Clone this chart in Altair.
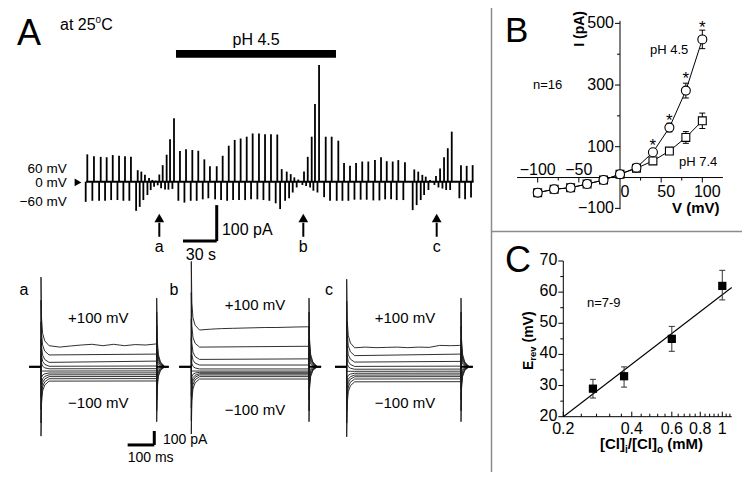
import altair as alt
import pandas as pd

FONT = "Liberation Sans"
INK = "#000000"
M = 8  # page margin of the html page

# ---------------- Panel A: continuous recording (t in s, I in pA) ----------------
sweep_t = [0, 5.7, 11.5, 16.6, 21.8, 27.2, 32.3, 37.4,
           43.2, 46.3, 49.4, 52.9, 55.7, 58.6, 61.7, 64.6, 68.0, 70.9, 74.3,
           79.4, 84.6, 90.0, 95.1, 100.3, 105.1, 110.9, 116.0, 121.2, 126.3, 131.4, 136.6, 141.7, 147.1, 152.3, 157.4, 162.8,
           166.6, 170.9, 174.3, 177.4, 180.8,
           185.7, 188.9, 192.3, 195.1, 198.6, 204.3, 209.4, 215.1, 220.0, 225.1, 230.3, 235.6, 240.8, 246.5, 251.7, 256.6, 261.7, 266.5, 272.2,
           280.2, 283.6, 287.1, 290.0, 293.7, 298.8, 302.3, 305.7, 308.9, 312.3, 320.2, 325.1, 330.2]
sweep_up = [76, 71, 69, 68, 74, 72, 71, 69,
            32, 28, 19, 10, 5, 3, 20, 46, 75, 118, 176,
            85, 90, 88, 86, 62, 43, 43, 72, 100, 116, 120, 125, 134, 134, 132, 132, 131,
            35, 28, 21, 12, 6,
            28, 69, 125, 216, 324, 125, 125, 114, 52, 44, 52, 56, 56, 60, 68, 57, 56, 60, 54,
            34, 28, 19, 14, 5, 16, 37, 68, 93, 139, 46, 44, 46]
sweep_down = [-56, -53, -53, -53, -51, -51, -53, -53,
              -81, -70, -51, -37, -23, -14, -10, -18, -22, -22, -20,
              -53, -58, -53, -53, -49, -46, -49, -51, -53, -51, -51, -51, -49, -49, -51, -53, -60,
              -76, -53, -46, -30, -16,
              -9, -12, -16, -25, -30, -43, -53, -53, -53, -53, -50, -50, -50, -52, -52, -49, -49, -51, -51,
              -79, -65, -51, -37, -23, -9, -16, -19, -23, -23, -46, -49, -44]
ph_bar_t = [76.0, 213.1]
ph_bar_i = [344.4, 365.8]
arrow_t = [61.7, 185.1, 299.4]
arrow_lbl = ["a", "b", "c"]
vlabels = ["60 mV", "0 mV", "\u221260 mV"]
vlabel_i = [35.5, -4.5, -56.5]

# ---------------- Panel A: current families (t in ms, I in pA) ----------------
step_mV = [100, 80, 60, 40, 20, 0, -20, -40, -60, -80, -100]
spike_on = [490, 390, 290, 195, 100, 0, -80, -160, -235, -315, -393]
spike_off = [-393, -315, -235, -160, -80, 0, 100, 195, 290, 390, 490]
decay_ms = [0, 2, 6, 14, 30]
decay_frac = [1.0, 0.4, 0.18, 0.07, 0.0]
fam_a_start = [150, 84, 31, 3, -15, -31, -45, -58, -71, -86, -103]
fam_a_end = [162, 90, 40, 5, -14, -30, -44, -57, -70, -85, -102]
fam_b_start = [262, 140, 52, 12, -16, -31, -40, -50, -59, -71, -88]
fam_b_end = [285, 146, 56, 12, -16, -31, -40, -50, -59, -71, -88]
fam_c_start = [135, 79, 33, 2, -18, -33, -47, -60, -72, -88, -108]
fam_c_end = [152, 90, 38, 4, -17, -32, -46, -59, -71, -87, -107]
top_trace_ms = [30, 70, 110, 150, 190, 230, 270, 310, 350, 390, 425]
fam_a_top = [150, 140, 148, 155, 160, 150, 160, 150, 158, 155, 162]
fam_b_top = [262, 268, 272, 274, 276, 278, 280, 280, 282, 284, 285]
fam_c_top = [135, 140, 136, 138, 140, 136, 140, 138, 152, 150, 152]

# ---------------- Panel B: I-V ----------------
iv_V = [-100, -80, -60, -40, -20, 0, 20, 40, 60, 80, 100]
iv_ph45 = [-49, -38, -33, -21, -8, 11, 32, 82, 162, 282, 448]
iv_ph45_err = [5, 5, 5, 5, 4, 4, 5, 8, 14, 24, 30]
iv_ph74 = [-49, -38, -33, -21, -8, 11, 30, 54, 86, 130, 184]
iv_ph74_err = [5, 5, 5, 5, 4, 4, 5, 5, 8, 19, 25]
star_V = [40, 60, 80, 100]
star_I = [116, 197, 332, 498]

# ---------------- Panel C: Erev vs ratio ----------------
ratio = [0.27, 0.37, 0.6, 1.0]
erev = [29, 33, 45, 62]
erev_lo = [26, 29.5, 41, 57.5]
erev_hi = [32, 36, 49, 67]
fit_x = [0.2, 1.1]
fit_y = [20, 61.5]

# ---------------- panel placement (screen pixels) ----------------
FY = ([-600, 600], [450.7, 282.7])
PANELS = {
    "top": dict(x=([0, 330], [87.3, 472.4]), y=([-200, 400], [253.7, 37.7])),
    "fa": dict(x=([0, 430], [41, 156.7]), y=FY),
    "fb": dict(x=([0, 430], [191.3, 309]), y=FY),
    "fc": dict(x=([0, 430], [346.7, 461]), y=FY),
    "B": dict(x=([-125, 125], [517.1, 722.9]), y=([-103, 508], [209.3, 20.9])),
    "C": dict(x=([0.2, 1.1], [563.3, 731.7]), y=([20, 70], [416.7, 261]), xlog=True),
}


def sc(p, ch):
    dom, rng = PANELS[p][ch]
    kw = dict(domain=dom, range=[r - M for r in rng], nice=False)
    if ch == "x" and PANELS[p].get("xlog"):
        kw["type"] = "log"
    else:
        kw["zero"] = False
    return alt.Scale(**kw)


def enc(p, x="x", y="y", x2=None, y2=None, **extra):
    e = dict(x=alt.X(x, type="quantitative", scale=sc(p, "x"), axis=None),
             y=alt.Y(y, type="quantitative", scale=sc(p, "y"), axis=None))
    if x2:
        e["x2"] = alt.X2(x2)
    if y2:
        e["y2"] = alt.Y2(y2)
    e.update(extra)
    return e


def txt(p, xs, ys, labels, **mk):
    df = pd.DataFrame({"x": xs, "y": ys, "label": labels})
    base = dict(font=FONT, color=INK, fontSize=15, align="center", baseline="middle")
    base.update(mk)
    return alt.Chart(df).mark_text(**base).encode(**enc(p), text="label:N")


layers = []

# separators
one = pd.DataFrame({"d": [0]})
layers.append(alt.Chart(one).mark_rule(color="#8c8c8c", strokeWidth=1.5).encode(
    x=alt.value(483.5), y=alt.value(0), y2=alt.value(464)))
layers.append(alt.Chart(one).mark_rule(color="#8c8c8c", strokeWidth=1.5).encode(
    x=alt.value(483.5), x2=alt.value(734), y=alt.value(223.5)))

# ---------- A: continuous trace ----------
sw = pd.DataFrame({"x": sweep_t, "up": sweep_up, "down": sweep_down, "z": 0})
layers.append(alt.Chart(pd.DataFrame({"x": [-1], "x2": [331], "y": [0]})).mark_rule(
    color=INK, strokeWidth=2).encode(**enc("top", x2="x2")))
layers.append(alt.Chart(sw).mark_rule(color=INK, strokeWidth=1.8).encode(**enc("top", y="z", y2="up")))
layers.append(alt.Chart(sw).mark_rule(color=INK, strokeWidth=1.8, xOffset=-1.6).encode(**enc("top", y="z", y2="down")))
layers.append(alt.Chart(pd.DataFrame({"x": [ph_bar_t[0]], "x2": [ph_bar_t[1]], "y": [ph_bar_i[0]], "y2": [ph_bar_i[1]]}))
              .mark_rect(color=INK).encode(**enc("top", x2="x2", y2="y2")))
layers.append(txt("top", [144.6], [393.6], ["pH 4.5"], fontSize=16))
ar = pd.DataFrame({"x": arrow_t, "y": [-114] * 3, "y2": [-153] * 3, "yh": [-101] * 3})
layers.append(alt.Chart(ar).mark_rule(color=INK, strokeWidth=2).encode(**enc("top", y2="y2")))
layers.append(alt.Chart(ar).mark_point(shape="triangle-up", filled=True, color=INK, size=95, opacity=1)
              .encode(**enc("top", y="yh")))
layers.append(txt("top", arrow_t, [-181] * 3, arrow_lbl, fontSize=16))
layers.append(txt("top", [-17.7] * 3, vlabel_i, vlabels, fontSize=13.5, align="right"))
layers.append(alt.Chart(pd.DataFrame({"x": [-8], "y": [-2]})).mark_point(
    shape="triangle-right", filled=True, color=INK, size=60, opacity=1).encode(**enc("top")))
# 100 pA / 30 s scale bar
layers.append(alt.Chart(pd.DataFrame({"x": [110.9], "y": [-165], "y2": [-65]})).mark_rule(
    color=INK, strokeWidth=3).encode(**enc("top", y2="y2")))
layers.append(alt.Chart(pd.DataFrame({"x": [82.0], "x2": [110.9], "y": [-165]})).mark_rule(
    color=INK, strokeWidth=3).encode(**enc("top", x2="x2")))
layers.append(txt("top", [115.4], [-134], ["100 pA"], fontSize=16, align="left"))
layers.append(txt("top", [97.4], [-203.6], ["30 s"], fontSize=16))
# panel letter and temperature
layers.append(txt("top", [-60.2], [379.7], ["A"], fontSize=36, align="left", baseline="alphabetic"))
layers.append(txt("top", [-23.4], [421.4], ["at 25"], fontSize=16, align="left", baseline="alphabetic"))
layers.append(txt("top", [-23.4], [421.4], ["o"], fontSize=10, align="left", baseline="alphabetic", dx=35.6, dy=-7))
layers.append(txt("top", [-23.4], [421.4], ["C"], fontSize=16, align="left", baseline="alphabetic", dx=41.2))


# ---------- A: current families ----------
def family_df(start, end, top):
    rows = []
    for k, v in enumerate(step_mV):
        pts = [(-44, 0), (0, 0)]
        for dt, fr in zip(decay_ms, decay_frac):
            pts.append((dt, start[k] + fr * spike_on[k]))
        if k == 0:
            pts += list(zip(top_trace_ms[1:], top[1:]))
            pts.append((430, top[-1]))
        else:
            pts.append((430, end[k]))
        for dt, fr in zip(decay_ms, decay_frac):
            pts.append((430 + dt, fr * spike_off[k]))
        pts.append((474, 0))
        for j, (t, i) in enumerate(pts):
            rows.append(dict(trace=v, k=j, x=t, y=i))
    return pd.DataFrame(rows)


fams = [("fa", fam_a_start, fam_a_end, fam_a_top, "a", -63.2, 213, 346, -261),
        ("fb", fam_b_start, fam_b_end, fam_b_top, "b", -63.2, 232.7, 440.7, -309),
        ("fc", fam_c_start, fam_c_end, fam_c_top, "c", -66.6, 219.3, 345.7, -261)]
for p, st, en, tp, lab, lx, mx, py, ny in fams:
    df = family_df(st, en, tp)
    layers.append(alt.Chart(df).mark_line(color="#1a1a1a", strokeWidth=0.9).encode(
        **enc(p, detail="trace:N", order="k:Q")))
    layers.append(alt.Chart(pd.DataFrame({"x": [-44, 430], "x2": [0, 474], "y": [0, 0]})).mark_rule(
        color=INK, strokeWidth=2).encode(**enc(p, x2="x2")))
    layers.append(txt(p, [mx, mx], [py, ny], ["+100 mV", "\u2212100 mV"], fontSize=15))
    layers.append(txt(p, [lx], [548], [lab], fontSize=16))

layers.append(alt.Chart(pd.DataFrame({"x": [421], "y": [-559], "y2": [-459]})).mark_rule(
    color=INK, strokeWidth=3).encode(**enc("fa", y2="y2")))
layers.append(alt.Chart(pd.DataFrame({"x": [322], "x2": [421], "y": [-559]})).mark_rule(
    color=INK, strokeWidth=3).encode(**enc("fa", x2="x2")))
layers.append(txt("fa", [453.5], [-523.6], ["100 pA"], fontSize=14, align="left"))
layers.append(txt("fa", [322], [-654], ["100 ms"], fontSize=14, align="left"))

# ---------- B ----------
bd = pd.DataFrame({
    "x": iv_V + iv_V,
    "y": iv_ph45 + iv_ph74,
    "err": iv_ph45_err + iv_ph74_err,
    "s": ["pH 4.5"] * len(iv_V) + ["pH 7.4"] * len(iv_V),
})
bd["lo"] = bd["y"] - bd["err"]
bd["hi"] = bd["y"] + bd["err"]
layers.append(alt.Chart(pd.DataFrame({"x": [-125], "x2": [125], "y": [0]})).mark_rule(
    color=INK, strokeWidth=1).encode(**enc("B", x2="x2")))
layers.append(alt.Chart(pd.DataFrame({"x": [0], "y": [-103], "y2": [508]})).mark_rule(
    color=INK, strokeWidth=1).encode(**enc("B", y2="y2")))
layers.append(alt.Chart(pd.DataFrame({"x": 0, "y": [-100, 100, 300, 500]})).mark_rule(
    color=INK, x2Offset=-5).encode(**enc("B", x2="x")))
layers.append(alt.Chart(pd.DataFrame({"x": 0, "y": [200, 400]})).mark_rule(
    color=INK, x2Offset=-3).encode(**enc("B", x2="x")))
layers.append(alt.Chart(pd.DataFrame({"x": [-100, -50, 50, 100], "y": 0})).mark_rule(
    color=INK, y2Offset=5).encode(**enc("B", y2="y")))
layers.append(alt.Chart(pd.DataFrame({"x": [-75, -25, 25, 75], "y": 0})).mark_rule(
    color=INK, y2Offset=3).encode(**enc("B", y2="y")))
layers.append(txt("B", [0] * 4, [500, 300, 100, -100], ["500", "300", "100", "\u2212100"],
                  fontSize=16, align="right", dx=-6))
layers.append(txt("B", [-100, -50], [0, 0], ["\u2212100", "\u221250"], fontSize=16, dy=-8))
layers.append(txt("B", [0, 50, 100], [0, 0, 0], ["0", "50", "100"], fontSize=16, dx=5, dy=14))
layers.append(alt.Chart(bd).mark_line(color=INK, strokeWidth=1).encode(**enc("B", detail="s:N")))
layers.append(alt.Chart(bd).mark_rule(color=INK, strokeWidth=1).encode(**enc("B", y="lo", y2="hi")))
layers.append(alt.Chart(bd).mark_rule(color=INK, strokeWidth=1, xOffset=-3, x2Offset=3).encode(**enc("B", y="hi", x2="x")))
layers.append(alt.Chart(bd).mark_rule(color=INK, strokeWidth=1, xOffset=-3, x2Offset=3).encode(**enc("B", y="lo", x2="x")))
layers.append(alt.Chart(bd[bd.s == "pH 7.4"]).mark_point(shape="square", filled=True, fill="white", stroke=INK,
                                                        strokeWidth=1.1, size=62, opacity=1).encode(**enc("B")))
layers.append(alt.Chart(bd[bd.s == "pH 4.5"]).mark_point(shape="circle", filled=True, fill="white", stroke=INK,
                                                        strokeWidth=1.1, size=80, opacity=1).encode(**enc("B")))
layers.append(txt("B", star_V, star_I, ["*"] * 4, fontSize=17, baseline="alphabetic", dy=9))
layers.append(txt("B", [-48.6], [482], ["I (pA)"], fontSize=14, fontWeight="bold", angle=270))
layers.append(txt("B", [92], [-99], ["V (mV)"], fontSize=15, fontWeight="bold"))
layers.append(txt("B", [-105.7], [300], ["n=16"], fontSize=13, align="left"))
layers.append(txt("B", [36.5, 71.7], [413.6, 50], ["pH 4.5", "pH 7.4"], fontSize=13, align="left"))
layers.append(txt("B", [-139.7], [440], ["B"], fontSize=35, align="left", baseline="alphabetic"))

# ---------- C ----------
cd = pd.DataFrame({"x": ratio, "y": erev, "lo": erev_lo, "hi": erev_hi})
layers.append(alt.Chart(pd.DataFrame({"x": [0.2], "x2": [1.1], "y": [20]})).mark_rule(
    color=INK, strokeWidth=1).encode(**enc("C", x2="x2")))
layers.append(alt.Chart(pd.DataFrame({"x": [0.2], "y": [20], "y2": [70]})).mark_rule(
    color=INK, strokeWidth=1).encode(**enc("C", y2="y2")))
layers.append(alt.Chart(pd.DataFrame({"x": 0.2, "y": [20, 30, 40, 50, 60, 70]})).mark_rule(
    color=INK, x2Offset=-5).encode(**enc("C", x2="x")))
layers.append(alt.Chart(pd.DataFrame({"x": 0.2, "y": [25, 35, 45, 55, 65]})).mark_rule(
    color=INK, x2Offset=-3).encode(**enc("C", x2="x")))
layers.append(alt.Chart(pd.DataFrame({"x": [0.2, 0.4, 0.6, 0.8, 1.0], "y": 20})).mark_rule(
    color=INK, y2Offset=-5).encode(**enc("C", y2="y")))
layers.append(alt.Chart(pd.DataFrame({"x": [0.24, 0.28, 0.32, 0.36, 0.44, 0.48, 0.52, 0.56, 0.64, 0.68, 0.72,
                                            0.76, 0.84, 0.88, 0.92, 0.96, 1.04, 1.08], "y": 20})).mark_rule(
    color=INK, y2Offset=-3).encode(**enc("C", y2="y")))
layers.append(txt("C", [0.2] * 6, [20, 30, 40, 50, 60, 70], ["20", "30", "40", "50", "60", "70"],
                  fontSize=16, align="right", dx=-6, dy=-1))
layers.append(txt("C", [0.2, 0.4, 0.6, 0.8, 1.0], [20] * 5, ["0.2", "0.4", "0.6", "0.8", "1"], fontSize=16, dy=12))
layers.append(alt.Chart(pd.DataFrame({"x": fit_x, "y": fit_y})).mark_line(color=INK, strokeWidth=1.1).encode(**enc("C")))
layers.append(alt.Chart(cd).mark_rule(color="#333333", strokeWidth=1).encode(**enc("C", y="lo", y2="hi")))
layers.append(alt.Chart(cd).mark_rule(color="#333333", strokeWidth=1, xOffset=-3, x2Offset=3).encode(**enc("C", y="hi", x2="x")))
layers.append(alt.Chart(cd).mark_rule(color="#333333", strokeWidth=1, xOffset=-3, x2Offset=3).encode(**enc("C", y="lo", x2="x")))
layers.append(alt.Chart(cd).mark_point(shape="square", filled=True, color=INK, size=68, opacity=1).encode(**enc("C")))
layers.append(txt("C", [0.254], [56.5], ["n=7-9"], fontSize=13, align="left"))
layers.append(txt("C", [0.1108], [66.5], ["C"], fontSize=36, align="left", baseline="alphabetic"))
# y title: E_rev (mV)
for s, fs, dx, dy in [("E", 14, 0, 0), ("rev", 9.5, 9.3, 3), ("(mV)", 14, 27.5, 0)]:
    layers.append(txt("C", [0.1472], [35.0], [s], fontSize=fs, fontWeight="bold", angle=270,
                      align="left", baseline="alphabetic", dx=dx, dy=dy))
# x title: [Cl]i/[Cl]o (mM)
for s, fs, dx, dy in [("[Cl]", 15, 0, 0), ("i", 10, 25.0, 3.5), ("/", 15, 27.8, 0), ("[Cl]", 15, 31.9, 0),
                      ("o", 10, 56.9, 3.5), ("(mM)", 15, 67.2, 0)]:
    layers.append(txt("C", [0.290], [9.6], [s], fontSize=fs, fontWeight="bold",
                      align="left", baseline="alphabetic", dx=dx, dy=dy))

chart = (alt.layer(*layers)
         .resolve_scale(x="independent", y="independent")
         .properties(width=734, height=464, padding=0, autosize=alt.AutoSizeParams(type="none"))
         .configure_view(stroke=None))

chart.save("out.html", embed_options={"renderer": "svg", "actions": False})
